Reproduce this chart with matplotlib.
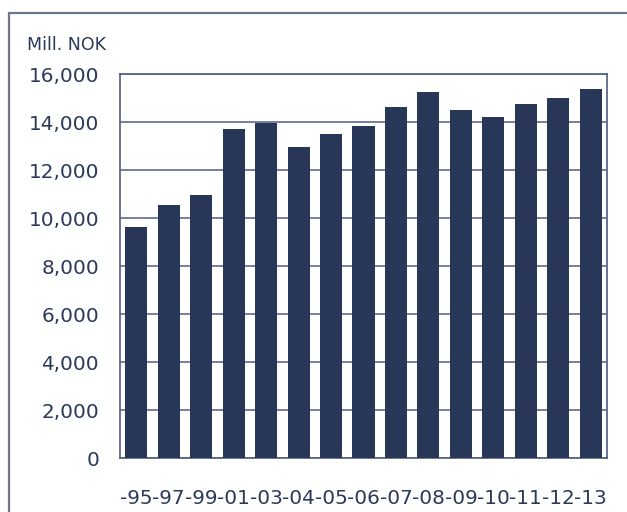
import matplotlib
matplotlib.use("Agg")
import matplotlib.pyplot as plt
from matplotlib.patches import Rectangle
from matplotlib.ticker import FuncFormatter, MultipleLocator

years = ["-95", "-97", "-99", "-01", "-03", "-04", "-05", "-06", "-07",
         "-08", "-09", "-10", "-11", "-12", "-13"]
values = [9640, 10530, 10970, 13720, 13970, 12970, 13500, 13830, 14610,
          15250, 14500, 14210, 14760, 15000, 15390]

BAR = "#283758"
TEXT = "#2b3a5a"
GRID = "#4f5e7e"
FRAME = "#6b7890"

fig = plt.figure(figsize=(6.27, 5.12), dpi=100)
W, H = 627, 512
ax = fig.add_axes([120 / W, 1 - 458 / H, (607 - 120) / W, (458 - 74) / H])

x = range(len(values))
ax.bar(x, values, width=0.68, color=BAR, zorder=3)
ax.set_xlim(-0.5, len(values) - 0.5)
ax.set_ylim(0, 16000)
ax.yaxis.set_major_locator(MultipleLocator(2000))
ax.yaxis.set_major_formatter(FuncFormatter(lambda v, p: f"{int(v):,}"))
ax.set_xticks(list(x))
ax.set_xticklabels(years)
ax.grid(axis="y", color=GRID, linewidth=1.1, zorder=1)
for s in ax.spines.values():
    s.set_color(GRID)
    s.set_linewidth(1.2)
ax.tick_params(axis="both", length=0, labelsize=14.4, colors=TEXT)
ax.tick_params(axis="y", pad=15)
ax.tick_params(axis="x", pad=22)

fig.text(27 / W, 1 - 45 / H, "Mill. NOK", fontsize=12.5, color=TEXT,
         va="center", ha="left")

fig.patches.append(Rectangle((9 / W, -0.1), 1.1, 1 - 13 / H + 0.1,
                             transform=fig.transFigure, fill=False,
                             edgecolor=FRAME, linewidth=1.6))

fig.savefig("out.png", dpi=100)
